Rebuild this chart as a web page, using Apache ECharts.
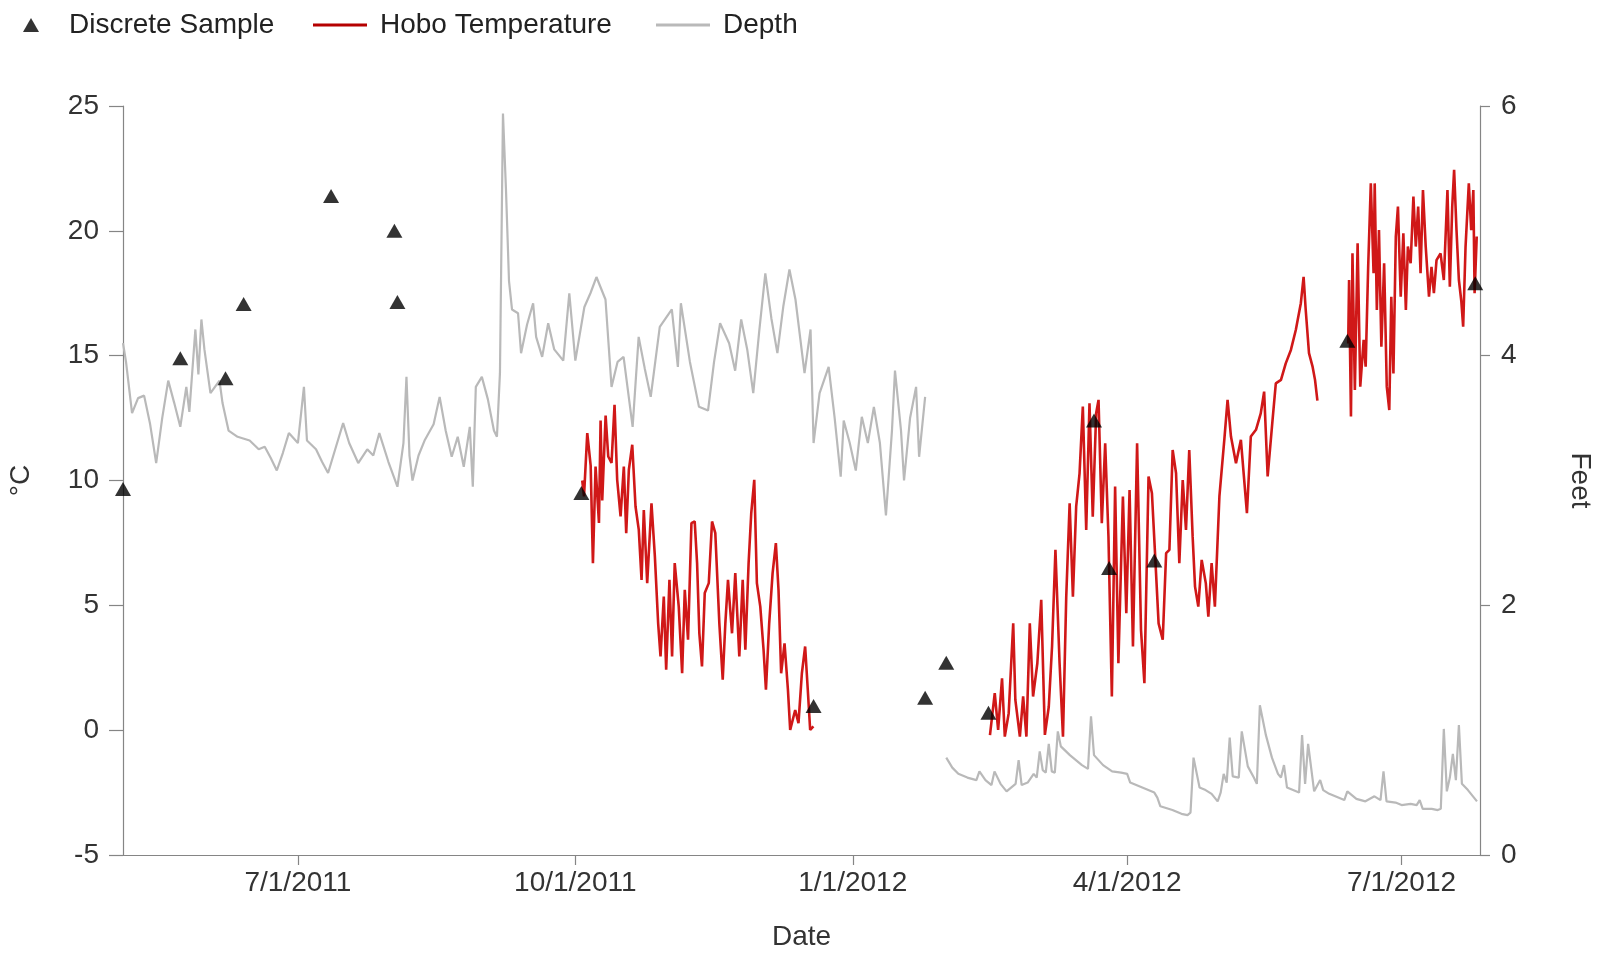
<!DOCTYPE html>
<html>
<head>
<meta charset="utf-8">
<script src="https://cdn.jsdelivr.net/npm/echarts@6/dist/echarts.min.js"></script>
<style>
html,body{margin:0;padding:0;background:#fff;}
#chart{width:1604px;height:955px;}
</style>
</head>
<body>
<div id="chart"></div>
<script>
// ---------- DATA ----------
const xTickDates = ['2011-07-01', '2011-10-01', '2012-01-01', '2012-04-01', '2012-07-01'];
const xRange = ['2011-05-04', '2012-07-27'];
const leftTicks = [-5, 0, 5, 10, 15, 20, 25];
const rightTicks = [0, 2, 4, 6];

const discreteSamples = [
  ['2011-05-04', 9.66], ['2011-05-23', 14.9], ['2011-06-07', 14.1], ['2011-06-13', 17.07],
  ['2011-07-12', 21.4], ['2011-08-02', 20.0], ['2011-08-03', 17.15], ['2011-10-03', 9.5],
  ['2011-12-19', 0.97], ['2012-01-25', 1.3], ['2012-02-01', 2.7], ['2012-02-15', 0.7],
  ['2012-03-21', 12.4], ['2012-03-26', 6.5], ['2012-04-10', 6.8], ['2012-06-13', 15.6],
  ['2012-07-25 10', 17.9]
];

const tempSegA = [
  ['2011-10-03 07', 10.0], ['2011-10-03 21', 9.36], ['2011-10-04 23', 11.9], ['2011-10-06 02', 10.6],
  ['2011-10-06 20', 6.69], ['2011-10-07 17', 10.56], ['2011-10-08 20', 8.3], ['2011-10-09 09', 12.4],
  ['2011-10-09 22', 9.2], ['2011-10-11 01', 12.6], ['2011-10-11 22', 10.96], ['2011-10-13 00', 10.7],
  ['2011-10-14 00', 13.03], ['2011-10-14 21', 10.03], ['2011-10-16 00', 8.56], ['2011-10-17 02', 10.56],
  ['2011-10-17 21', 7.89], ['2011-10-18 18', 10.43], ['2011-10-19 21', 11.43], ['2011-10-20 23', 8.96],
  ['2011-10-22 01', 8.02], ['2011-10-22 23', 6.02], ['2011-10-23 17', 8.82], ['2011-10-24 20', 5.89],
  ['2011-10-26 06', 9.09], ['2011-10-27 09', 6.96], ['2011-10-28 11', 4.29], ['2011-10-29 06', 2.95],
  ['2011-10-30 08', 5.35], ['2011-10-31 03', 2.42], ['2011-11-01 05', 6.02], ['2011-11-02 02', 2.95],
  ['2011-11-02 23', 6.69], ['2011-11-04 07', 4.95], ['2011-11-05 10', 2.28], ['2011-11-06 07', 5.62],
  ['2011-11-07 09', 3.62], ['2011-11-08 12', 8.29], ['2011-11-09 14', 8.36], ['2011-11-10 09', 6.69],
  ['2011-11-11 03', 3.88], ['2011-11-12 00', 2.55], ['2011-11-12 22', 5.49], ['2011-11-14 06', 5.89],
  ['2011-11-15 08', 8.36], ['2011-11-16 10', 7.89], ['2011-11-17 18', 4.29], ['2011-11-18 21', 2.02],
  ['2011-11-19 18', 4.29], ['2011-11-20 15', 6.02], ['2011-11-21 23', 3.88], ['2011-11-23 01', 6.29],
  ['2011-11-24 09', 2.95], ['2011-11-25 12', 6.02], ['2011-11-26 09', 3.22], ['2011-11-27 11', 6.69],
  ['2011-11-28 08', 8.69], ['2011-11-29 08', 10.03], ['2011-11-30 05', 5.89], ['2011-12-01 08', 4.95],
  ['2011-12-02 10', 3.22], ['2011-12-03 05', 1.62], ['2011-12-04 07', 4.29], ['2011-12-05 10', 6.29],
  ['2011-12-06 12', 7.49], ['2011-12-07 09', 5.62], ['2011-12-08 06', 2.28], ['2011-12-09 09', 3.48],
  ['2011-12-10 12', 1.62], ['2011-12-11 06', 0.01], ['2011-12-12 22', 0.81], ['2011-12-14 00', 0.28],
  ['2011-12-15 03', 2.28], ['2011-12-16 05', 3.35], ['2011-12-17 02', 1.62], ['2011-12-17 21', 0.01],
  ['2011-12-18 23', 0.15]
];

const tempSegB = [
  ['2012-02-15 12', -0.2], ['2012-02-17 02', 1.48], ['2012-02-18 05', 0.01], ['2012-02-19 12', 2.08],
  ['2012-02-20 10', -0.26], ['2012-02-21 17', 0.68], ['2012-02-23 05', 4.28], ['2012-02-23 22', 1.21],
  ['2012-02-25 10', -0.26], ['2012-02-26 12', 1.35], ['2012-02-27 14', -0.26], ['2012-02-28 17', 4.28],
  ['2012-02-29 19', 1.35], ['2012-03-02 05', 2.68], ['2012-03-03 12', 5.22], ['2012-03-04 17', -0.19],
  ['2012-03-06 00', 0.94], ['2012-03-07 02', 3.35], ['2012-03-08 05', 7.22], ['2012-03-09 14', 2.68],
  ['2012-03-10 17', -0.26], ['2012-03-11 19', 5.35], ['2012-03-12 22', 9.09], ['2012-03-14 00', 5.35],
  ['2012-03-15 02', 8.95], ['2012-03-16 05', 10.29], ['2012-03-17 07', 12.96], ['2012-03-18 10', 8.02],
  ['2012-03-19 12', 13.09], ['2012-03-20 14', 8.55], ['2012-03-21 17', 12.69], ['2012-03-22 12', 13.23],
  ['2012-03-23 14', 8.29], ['2012-03-24 17', 11.49], ['2012-03-25 19', 7.75], ['2012-03-26 22', 1.35],
  ['2012-03-28 00', 9.76], ['2012-03-29 02', 2.68], ['2012-03-30 14', 9.36], ['2012-03-31 17', 4.68],
  ['2012-04-01 19', 9.62], ['2012-04-02 22', 3.35], ['2012-04-04 07', 11.49], ['2012-04-05 14', 4.02],
  ['2012-04-06 17', 1.88], ['2012-04-08 02', 10.16], ['2012-04-09 05', 9.49], ['2012-04-10 07', 6.95],
  ['2012-04-11 10', 4.28], ['2012-04-12 19', 3.62], ['2012-04-13 22', 7.09], ['2012-04-15 00', 7.22],
  ['2012-04-16 02', 11.22], ['2012-04-17 05', 10.29], ['2012-04-18 07', 6.69], ['2012-04-19 10', 10.02],
  ['2012-04-20 12', 8.02], ['2012-04-21 14', 11.22], ['2012-04-22 17', 7.75], ['2012-04-23 12', 5.75],
  ['2012-04-24 14', 4.95], ['2012-04-25 17', 6.82], ['2012-04-27 02', 5.88], ['2012-04-27 22', 4.55],
  ['2012-04-29 00', 6.69], ['2012-04-30 02', 4.95], ['2012-05-01 14', 9.36], ['2012-05-03 05', 11.63],
  ['2012-05-04 07', 13.23], ['2012-05-05 10', 11.76], ['2012-05-07 02', 10.69], ['2012-05-08 17', 11.63],
  ['2012-05-10 17', 8.69], ['2012-05-12 00', 11.76], ['2012-05-13 17', 12.03], ['2012-05-15 07', 12.69],
  ['2012-05-16 10', 13.56], ['2012-05-17 14', 10.16], ['2012-05-19 05', 12.43], ['2012-05-20 07', 13.89],
  ['2012-05-22 00', 14.03], ['2012-05-23 14', 14.69], ['2012-05-25 07', 15.23], ['2012-05-26 22', 16.03],
  ['2012-05-28 14', 17.1], ['2012-05-29 12', 18.16], ['2012-05-30 05', 16.83], ['2012-05-31 07', 15.1],
  ['2012-06-01 12', 14.55], ['2012-06-02 07', 14.03], ['2012-06-03 02', 13.2]
];

const tempSegC = [
  ['2012-06-13 07', 15.49], ['2012-06-13 14', 18.03], ['2012-06-14 05', 12.56], ['2012-06-14 17', 19.1],
  ['2012-06-15 12', 13.63], ['2012-06-16 10', 19.5], ['2012-06-17 07', 13.76], ['2012-06-18 10', 15.63],
  ['2012-06-19 02', 14.56], ['2012-06-19 22', 18.56], ['2012-06-20 19', 21.9], ['2012-06-21 17', 18.3],
  ['2012-06-22 02', 21.9], ['2012-06-22 19', 16.83], ['2012-06-23 12', 20.03], ['2012-06-24 07', 15.36],
  ['2012-06-25 05', 18.7], ['2012-06-26 02', 13.76], ['2012-06-26 22', 12.82], ['2012-06-27 14', 17.36],
  ['2012-06-28 07', 14.29], ['2012-06-29 02', 19.77], ['2012-06-29 19', 20.97], ['2012-06-30 17', 17.36],
  ['2012-07-01 14', 19.9], ['2012-07-02 10', 16.83], ['2012-07-03 02', 19.37], ['2012-07-04 00', 18.7],
  ['2012-07-04 22', 21.37], ['2012-07-05 17', 19.37], ['2012-07-06 12', 20.97], ['2012-07-07 07', 18.3],
  ['2012-07-08 02', 21.63], ['2012-07-09 00', 19.37], ['2012-07-10 02', 17.36], ['2012-07-10 22', 18.56],
  ['2012-07-11 17', 17.5], ['2012-07-12 14', 18.83], ['2012-07-13 22', 19.1], ['2012-07-15 00', 18.03],
  ['2012-07-16 05', 21.63], ['2012-07-17 00', 17.76], ['2012-07-17 19', 20.97], ['2012-07-18 10', 22.44],
  ['2012-07-19 05', 20.03], ['2012-07-20 00', 18.03], ['2012-07-20 19', 17.2], ['2012-07-21 10', 16.16],
  ['2012-07-22 05', 19.37], ['2012-07-23 07', 21.9], ['2012-07-24 02', 20.03], ['2012-07-24 19', 21.63],
  ['2012-07-25 05', 17.5], ['2012-07-25 22', 19.77]
];

const depthSeg1 = [
  ['2011-05-04', 4.10], ['2011-05-05', 3.95], ['2011-05-07', 3.54], ['2011-05-09', 3.66], ['2011-05-11', 3.68],
  ['2011-05-13', 3.45], ['2011-05-15', 3.14], ['2011-05-17', 3.50], ['2011-05-19', 3.80], ['2011-05-21', 3.62],
  ['2011-05-23', 3.43], ['2011-05-25', 3.75], ['2011-05-26', 3.55], ['2011-05-28', 4.21], ['2011-05-29', 3.85],
  ['2011-05-30', 4.29], ['2011-05-31', 4.05], ['2011-06-02', 3.70], ['2011-06-05', 3.80], ['2011-06-06', 3.62],
  ['2011-06-08', 3.40], ['2011-06-11', 3.35], ['2011-06-15', 3.32], ['2011-06-18', 3.25], ['2011-06-20', 3.27],
  ['2011-06-22', 3.18], ['2011-06-24', 3.08], ['2011-06-26', 3.22], ['2011-06-28', 3.38], ['2011-07-01', 3.30],
  ['2011-07-03', 3.75], ['2011-07-04', 3.32], ['2011-07-07', 3.25], ['2011-07-09', 3.15], ['2011-07-11', 3.06],
  ['2011-07-14', 3.30], ['2011-07-16', 3.46], ['2011-07-18', 3.30], ['2011-07-21', 3.14], ['2011-07-24', 3.25],
  ['2011-07-26', 3.20], ['2011-07-28', 3.38], ['2011-07-31', 3.15], ['2011-08-03', 2.95], ['2011-08-05', 3.30],
  ['2011-08-06', 3.83], ['2011-08-07', 3.20], ['2011-08-08', 3.00], ['2011-08-10', 3.20], ['2011-08-12', 3.32],
  ['2011-08-15', 3.45], ['2011-08-17', 3.67], ['2011-08-19', 3.40], ['2011-08-21', 3.19], ['2011-08-23', 3.35],
  ['2011-08-25', 3.11], ['2011-08-27', 3.43], ['2011-08-28', 2.95], ['2011-08-29', 3.75], ['2011-08-31', 3.83],
  ['2011-09-02', 3.65], ['2011-09-04', 3.40], ['2011-09-05', 3.35], ['2011-09-06', 3.86], ['2011-09-07', 5.94],
  ['2011-09-08', 5.33], ['2011-09-09', 4.60], ['2011-09-10', 4.37], ['2011-09-12', 4.34], ['2011-09-13', 4.02],
  ['2011-09-15', 4.25], ['2011-09-17', 4.42], ['2011-09-18', 4.15], ['2011-09-20', 3.99], ['2011-09-22', 4.26],
  ['2011-09-24', 4.05], ['2011-09-27', 3.96], ['2011-09-29', 4.50], ['2011-10-01', 3.96], ['2011-10-04', 4.39],
  ['2011-10-06', 4.50], ['2011-10-08', 4.63], ['2011-10-11', 4.45], ['2011-10-13', 3.75], ['2011-10-15', 3.95],
  ['2011-10-17', 3.99], ['2011-10-20', 3.43], ['2011-10-22', 4.15], ['2011-10-24', 3.90], ['2011-10-26', 3.67],
  ['2011-10-29', 4.23], ['2011-10-31', 4.30], ['2011-11-02', 4.37], ['2011-11-04', 3.91], ['2011-11-05', 4.42],
  ['2011-11-08', 3.95], ['2011-11-11', 3.59], ['2011-11-14', 3.56], ['2011-11-16', 3.95], ['2011-11-18', 4.26],
  ['2011-11-21', 4.10], ['2011-11-23', 3.88], ['2011-11-25', 4.29], ['2011-11-27', 4.05], ['2011-11-29', 3.70],
  ['2011-12-01', 4.20], ['2011-12-03', 4.66], ['2011-12-05', 4.30], ['2011-12-07', 4.02], ['2011-12-09', 4.40],
  ['2011-12-11', 4.69], ['2011-12-13', 4.45], ['2011-12-16', 3.86], ['2011-12-18', 4.21], ['2011-12-19', 3.30],
  ['2011-12-21', 3.70], ['2011-12-24', 3.91], ['2011-12-26', 3.50], ['2011-12-28', 3.03], ['2011-12-29', 3.48],
  ['2011-12-31', 3.30], ['2012-01-02', 3.08], ['2012-01-04', 3.51], ['2012-01-06', 3.30], ['2012-01-08', 3.59],
  ['2012-01-10', 3.30], ['2012-01-12', 2.72], ['2012-01-14', 3.40], ['2012-01-15', 3.88], ['2012-01-17', 3.40],
  ['2012-01-18', 3.00], ['2012-01-20', 3.50], ['2012-01-22', 3.75], ['2012-01-23', 3.19], ['2012-01-25', 3.67]
];

const depthSeg2 = [
  ['2012-02-01', 0.78], ['2012-02-03', 0.70], ['2012-02-05', 0.65], ['2012-02-08', 0.62], ['2012-02-11', 0.60],
  ['2012-02-12', 0.67], ['2012-02-14', 0.60], ['2012-02-16', 0.56], ['2012-02-17', 0.67], ['2012-02-19', 0.57],
  ['2012-02-21', 0.51], ['2012-02-24', 0.57], ['2012-02-25', 0.76], ['2012-02-26', 0.56], ['2012-02-28', 0.58],
  ['2012-03-01', 0.65], ['2012-03-02', 0.62], ['2012-03-03', 0.83], ['2012-03-04', 0.68], ['2012-03-05', 0.66],
  ['2012-03-06', 0.89], ['2012-03-07', 0.67], ['2012-03-08', 0.66], ['2012-03-09', 0.99], ['2012-03-10', 0.87],
  ['2012-03-13', 0.80], ['2012-03-15', 0.76], ['2012-03-17', 0.72], ['2012-03-19', 0.69], ['2012-03-20', 1.11],
  ['2012-03-21', 0.80], ['2012-03-24', 0.72], ['2012-03-27', 0.67], ['2012-03-30', 0.66], ['2012-04-01', 0.65],
  ['2012-04-02', 0.58], ['2012-04-05', 0.55], ['2012-04-07', 0.53], ['2012-04-10', 0.50], ['2012-04-11', 0.46],
  ['2012-04-12', 0.39], ['2012-04-16', 0.36], ['2012-04-19', 0.33], ['2012-04-21', 0.32], ['2012-04-22', 0.34],
  ['2012-04-23', 0.78], ['2012-04-25', 0.54], ['2012-04-27', 0.52], ['2012-04-29', 0.49], ['2012-05-01', 0.43],
  ['2012-05-02', 0.50], ['2012-05-03', 0.65], ['2012-05-04', 0.58], ['2012-05-05', 0.94], ['2012-05-06', 0.63],
  ['2012-05-08', 0.62], ['2012-05-09', 0.99], ['2012-05-11', 0.71], ['2012-05-13', 0.62], ['2012-05-14', 0.57],
  ['2012-05-15', 1.20], ['2012-05-17', 0.96], ['2012-05-19', 0.78], ['2012-05-21', 0.65], ['2012-05-22', 0.62],
  ['2012-05-23', 0.72], ['2012-05-24', 0.54], ['2012-05-26', 0.52], ['2012-05-28', 0.50], ['2012-05-29', 0.96],
  ['2012-05-30', 0.57], ['2012-05-31', 0.89], ['2012-06-02', 0.51], ['2012-06-04', 0.60], ['2012-06-05', 0.52],
  ['2012-06-07', 0.49], ['2012-06-09', 0.47], ['2012-06-12', 0.44], ['2012-06-13', 0.51], ['2012-06-16', 0.45],
  ['2012-06-19', 0.43], ['2012-06-22', 0.47], ['2012-06-24', 0.44], ['2012-06-25', 0.67], ['2012-06-26', 0.43],
  ['2012-06-29', 0.42], ['2012-07-01', 0.40], ['2012-07-04', 0.41], ['2012-07-06', 0.40], ['2012-07-07', 0.44],
  ['2012-07-08', 0.37], ['2012-07-11', 0.37], ['2012-07-13', 0.36], ['2012-07-14', 0.37], ['2012-07-15', 1.01],
  ['2012-07-16', 0.51], ['2012-07-17', 0.62], ['2012-07-18', 0.81], ['2012-07-19', 0.60], ['2012-07-20', 1.04],
  ['2012-07-21', 0.57], ['2012-07-23', 0.52], ['2012-07-24', 0.49], ['2012-07-26', 0.43]
];

// ---------- CHART ----------
const FONT = '"Liberation Sans", Arial, sans-serif';
const FS = 28;
const LABEL_COLOR = '#333333';
const AXIS_COLOR = '#858585';
const parse = s => echarts.number.parseDate(s).getTime();
const toXY = arr => arr.map(p => [parse(p[0]), p[1]]);
const xTickValues = xTickDates.map(parse);

const tempData = [].concat(toXY(tempSegA), [[parse('2012-01-20'), null]], toXY(tempSegB),
                           [[parse('2012-06-08'), null]], toXY(tempSegC));
const depthData = [].concat(toXY(depthSeg1), [[parse('2012-01-28'), null]], toXY(depthSeg2));

const chart = echarts.init(document.getElementById('chart'), null, {renderer: 'canvas'});
const legendText = {fontFamily: FONT, fontSize: FS, color: '#222'};

chart.setOption({
  animation: false,
  backgroundColor: '#ffffff',
  legend: [
    {data: [{name: 'Discrete Sample', icon: 'triangle'}], left: 18, top: 6, itemWidth: 16, itemHeight: 14, itemGap: 0,
     textStyle: Object.assign({padding: [0, 0, 0, 25]}, legendText)},
    {data: [{name: 'Hobo Temperature', icon: 'rect'}], left: 308, top: 6, itemWidth: 54, itemHeight: 3,
     itemStyle: {color: '#b50000'},
     textStyle: Object.assign({padding: [0, 0, 0, 8]}, legendText)},
    {data: [{name: 'Depth', icon: 'rect'}], left: 651, top: 6, itemWidth: 54, itemHeight: 3,
     itemStyle: {color: '#b9b9b9'},
     textStyle: Object.assign({padding: [0, 0, 0, 8]}, legendText)}
  ],
  grid: {left: 123, right: 124, top: 106, bottom: 100, containLabel: false, outerBoundsMode: 'none'},
  xAxis: {
    type: 'value',
    min: parse(xRange[0]),
    max: parse(xRange[1]),
    name: 'Date',
    nameLocation: 'middle',
    nameGap: 68,
    nameTextStyle: {fontFamily: FONT, fontSize: FS, color: LABEL_COLOR},
    axisLine: {show: true, onZero: false, lineStyle: {color: AXIS_COLOR, width: 1.2}},
    axisTick: {show: true, inside: false, length: 10, customValues: xTickValues, lineStyle: {color: AXIS_COLOR, width: 1.2}},
    axisLabel: {
      customValues: xTickValues,
      margin: 14,
      fontFamily: FONT, fontSize: FS, color: LABEL_COLOR,
      formatter: v => { const d = new Date(v); return (d.getMonth() + 1) + '/' + d.getDate() + '/' + d.getFullYear(); }
    },
    splitLine: {show: false}
  },
  yAxis: [
    {
      type: 'value', min: leftTicks[0], max: leftTicks[leftTicks.length - 1], interval: 5,
      position: 'left',
      name: '°C', nameLocation: 'middle', nameGap: 88, nameRotate: 90,
      nameTextStyle: {fontFamily: FONT, fontSize: FS, color: LABEL_COLOR},
      axisLine: {show: true, onZero: false, lineStyle: {color: AXIS_COLOR, width: 1.2}},
      axisTick: {show: true, inside: false, length: 14, lineStyle: {color: AXIS_COLOR, width: 1.2}},
      axisLabel: {margin: 24, fontFamily: FONT, fontSize: FS, color: LABEL_COLOR},
      splitLine: {show: false}
    },
    {
      type: 'value', min: rightTicks[0], max: rightTicks[rightTicks.length - 1], interval: 2,
      position: 'right',
      name: 'Feet', nameLocation: 'middle', nameGap: 86, nameRotate: -90,
      nameTextStyle: {fontFamily: FONT, fontSize: FS, color: LABEL_COLOR},
      axisLine: {show: true, onZero: false, lineStyle: {color: AXIS_COLOR, width: 1.2}},
      axisTick: {show: true, inside: false, length: 10, lineStyle: {color: AXIS_COLOR, width: 1.2}},
      axisLabel: {margin: 21, fontFamily: FONT, fontSize: FS, color: LABEL_COLOR},
      splitLine: {show: false}
    }
  ],
  series: [
    {
      name: 'Depth', type: 'line', yAxisIndex: 1, data: depthData,
      showSymbol: false, symbol: 'none', connectNulls: false,
      lineStyle: {color: '#b9b9b9', width: 2.2}, itemStyle: {color: '#b9b9b9'}, z: 1
    },
    {
      name: 'Hobo Temperature', type: 'line', yAxisIndex: 0, data: tempData,
      showSymbol: false, symbol: 'none', connectNulls: false,
      lineStyle: {color: '#d01818', width: 2.6}, itemStyle: {color: '#b50000'}, z: 2
    },
    {
      name: 'Discrete Sample', type: 'scatter', yAxisIndex: 0, data: toXY(discreteSamples),
      symbol: 'triangle', symbolSize: [16, 14], clip: false,
      itemStyle: {color: '#000000'}, z: 3
    }
  ]
});
</script>
</body>
</html>
